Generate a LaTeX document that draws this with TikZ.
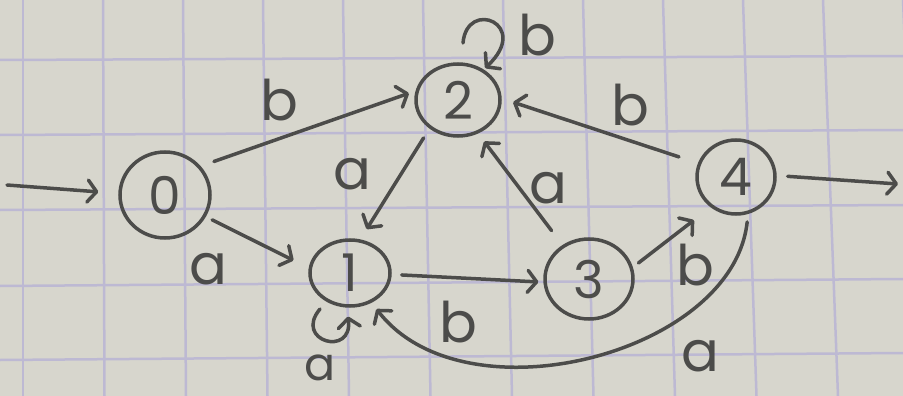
\documentclass[tikz,border=0pt]{standalone}
\usepackage{fontspec}
\setmainfont{Poppins}
\usetikzlibrary{arrows.meta,shapes.geometric}
\definecolor{paper}{HTML}{D7D6CD}
\definecolor{gridc}{HTML}{BDB9D3}
\definecolor{ink}{HTML}{4C4C4A}
\begin{document}
\begin{tikzpicture}[x=1pt,y=-1pt,
  state/.style={draw=ink, line width=3.5pt, ellipse, inner sep=0pt, text=ink,
    font=\fontsize{52}{52}\selectfont},
  edge/.style={draw=ink, line width=3.5pt, line cap=round,
    -{Straight Barb[length=9pt,width=22pt,line width=3.5pt,round]}},
  lbl/.style={text=ink, inner sep=0pt, font=\fontsize{56}{56}\selectfont},
  gridline/.style={draw=gridc, line width=2.5pt}]
\useasboundingbox (0,0) rectangle (903,396);
\fill[paper] (0,0) rectangle (903,396);
% graph paper grid
\foreach \k in {0,...,11} {
  \draw[gridline] ({23+80*\k},0) -- ({23+81.5*\k},396);
}
\draw[gridline] (0,60) -- (903,56);
\draw[gridline] (0,135) -- (903,130);
\draw[gridline] (0,210) -- (903,205);
\draw[gridline] (0,286) -- (903,279);
\draw[gridline] (0,360) -- (903,353);
% states
\node[state, minimum width=90pt, minimum height=86pt] (n0) at (165,195) {0};
\node[state, minimum width=84pt, minimum height=72pt] (n2) at (458,100) {2};
\node[state, minimum width=80pt, minimum height=66pt] (n1) at (350,273) {1};
\node[state, minimum width=88pt, minimum height=80pt] (n3) at (589,279) {3};
\node[state, minimum width=78pt, minimum height=74pt] (n4) at (736,177) {4};
% start and final
\coordinate (s) at (7,185);
\coordinate (f) at (898,184);
\draw[edge, shorten >=20pt] (s) -- (n0.178);
\draw[edge, shorten <=11pt] (n4.2) -- (f);
% transitions
\draw[edge, shorten <=14pt, shorten >=7pt] (n0.39) -- (n2.168);
\draw[edge, shorten <=7pt, shorten >=17pt] (n0.-28) -- (n1.173);
\draw[edge, shorten <=11pt, shorten >=12pt] (n2.-135) -- (n1.73);
\draw[edge, shorten <=10pt, shorten >=5pt] (n1.-2) -- (n3.184);
\draw[edge, shorten <=18pt, shorten >=10pt] (n3.128) -- (n2.-59);
\draw[edge, shorten <=7pt, shorten >=21pt] (n3.15) -- (n4.-130);
\draw[edge, shorten <=20pt, shorten >=12pt] (n4.160) -- (n2.2);
\draw[edge, shorten <=8pt, shorten >=8pt] (n4.-72) .. controls +(-15,140) and +(93,120) .. (n1.-54);
% self loops
\draw[edge, shorten >=2pt] ([shift={(5,-57)}]n2.center) .. controls +(4,-45) and +(48,-45) .. (n2.50);
\draw[edge, shorten >=9pt] ([shift={(-30,36)}]n1.center) .. controls +(-27,32) and +(6,50) .. (n1.-95);
% labels
\node[lbl] (l02) at (279,100) {b};
\node[lbl] (l01) at (208,269) {a};
\node[lbl] (l21) at (352,174) {a};
\node[lbl] (l13) at (458,322) {b};
\node[lbl] (l32) at (548,188) {a};
\node[lbl] (l42) at (630,105) {b};
\node[lbl] (l34) at (695,265) {b};
\node[lbl] (l41) at (700,356) {a};
\node[lbl] (l22) at (537,35) {b};
\node[lbl, font=\fontsize{46}{46}\selectfont] (l11) at (320,368) {a};
\end{tikzpicture}
\end{document}
